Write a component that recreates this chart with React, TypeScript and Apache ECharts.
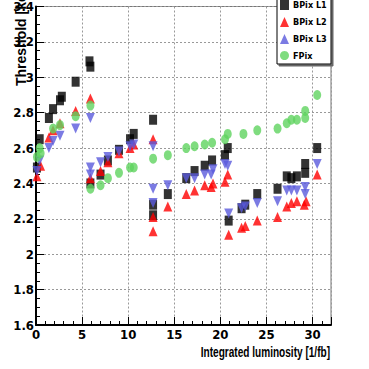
import React, { useEffect, useRef } from "react";
import * as echarts from "echarts";

const seriesNames = ["BPix L1", "BPix L2", "BPix L3", "FPix"];

const bpixL1: [number, number][] = [
  [0.1, 2.49], [0.4, 2.65], [1.4, 2.77], [1.85, 2.82], [2.6, 2.87], [2.8, 2.89],
  [4.3, 2.975], [5.8, 3.09], [5.9, 3.06], [5.9, 2.4], [7.0, 2.45], [7.8, 2.53],
  [9.0, 2.59], [10.2, 2.65], [10.6, 2.68], [12.7, 2.76], [12.7, 2.28], [12.7, 2.22],
  [14.3, 2.34], [16.3, 2.43], [17.2, 2.47], [18.3, 2.5], [19.1, 2.53], [20.5, 2.56],
  [20.8, 2.6], [20.9, 2.19], [22.3, 2.26], [22.7, 2.28], [24.0, 2.34], [26.2, 2.37],
  [27.2, 2.44], [27.7, 2.43], [28.3, 2.44], [29.2, 2.51], [29.2, 2.46], [30.5, 2.6],
];

const bpixL2: [number, number][] = [
  [0.1, 2.44], [0.5, 2.5], [1.4, 2.66], [1.85, 2.7], [2.6, 2.74], [4.3, 2.81],
  [5.9, 2.88], [5.9, 2.43], [7.0, 2.47], [7.8, 2.52], [9.0, 2.57], [10.2, 2.6],
  [10.6, 2.62], [12.7, 2.65], [12.7, 2.21], [12.7, 2.13], [14.3, 2.27], [16.3, 2.34],
  [17.2, 2.36], [18.3, 2.39], [19.0, 2.38], [19.2, 2.4], [20.5, 2.41], [20.8, 2.45],
  [20.9, 2.11], [22.3, 2.15], [22.7, 2.16], [24.0, 2.19], [26.2, 2.21], [27.2, 2.27],
  [27.7, 2.29], [28.3, 2.3], [29.1, 2.28], [29.3, 2.3], [30.5, 2.45],
];

const bpixL3: [number, number][] = [
  [0.1, 2.47], [0.4, 2.53], [1.4, 2.6], [1.85, 2.64], [2.6, 2.67], [4.3, 2.71],
  [5.9, 2.77], [5.9, 2.49], [5.9, 2.45], [7.0, 2.52], [7.8, 2.55], [9.0, 2.58],
  [10.2, 2.61], [10.6, 2.62], [12.7, 2.61], [12.7, 2.37], [12.7, 2.29], [14.3, 2.39],
  [16.3, 2.43], [17.2, 2.43], [18.3, 2.45], [19.0, 2.45], [19.2, 2.48], [20.5, 2.51],
  [20.8, 2.5], [20.9, 2.23], [22.3, 2.26], [22.7, 2.27], [24.0, 2.29], [26.2, 2.3],
  [27.2, 2.36], [27.7, 2.36], [28.3, 2.36], [29.2, 2.38], [29.2, 2.34], [30.5, 2.51],
];

const fpix: [number, number][] = [
  [0.1, 2.55], [0.4, 2.6], [0.5, 2.57], [1.85, 2.71], [2.6, 2.73], [4.3, 2.78],
  [5.9, 2.84], [5.9, 2.37], [7.0, 2.39], [7.8, 2.43], [9.0, 2.46], [10.2, 2.49],
  [10.6, 2.49], [12.7, 2.54], [14.3, 2.56], [16.3, 2.6], [17.2, 2.61], [18.3, 2.62],
  [19.1, 2.63], [20.5, 2.65], [20.8, 2.68], [22.5, 2.68], [24.0, 2.7], [26.2, 2.71],
  [27.2, 2.74], [27.7, 2.76], [28.3, 2.76], [29.2, 2.77], [29.2, 2.81], [30.5, 2.9],
];

const xTitle = "Integrated luminosity [1/fb]";
const yTitle = "Threshold [ke]";

const FONT = "'Liberation Sans Narrow', 'DejaVu Sans Condensed', 'Liberation Sans', sans-serif";

export default function App() {
  const ref = useRef<HTMLDivElement>(null);
  useEffect(() => {
    if (!ref.current) return;
    const chart = echarts.init(ref.current, undefined, { renderer: "svg" });
    const labelStyle = {
      color: "#000",
      fontSize: 13,
      fontWeight: "bold" as const,
      fontFamily: FONT,
    };
    const option: any = {
      animation: false,
      backgroundColor: "#fff",
      grid: {
        left: 36,
        right: 38,
        top: -4,
        bottom: 44,
        show: true,
        borderColor: "#777",
        borderWidth: 1,
        backgroundColor: "transparent",
      },
      xAxis: {
        type: "value",
        min: 0,
        max: 32,
        interval: 5,
        axisLine: { show: true, onZero: false, lineStyle: { color: "#000", width: 2 } },
        axisTick: { show: true, inside: true, length: 8, lineStyle: { color: "#000", width: 1 } },
        minorTick: { show: true, splitNumber: 5, length: 4, lineStyle: { color: "#000", width: 1 } },
        splitLine: { show: true, lineStyle: { color: "#999", width: 1, type: [2, 2] } },
        axisLabel: { ...labelStyle, margin: 3, showMaxLabel: false },
      },
      yAxis: {
        type: "value",
        min: 1.6,
        max: 3.4,
        interval: 0.2,
        axisLine: { show: true, onZero: false, lineStyle: { color: "#000", width: 2 } },
        axisTick: { show: true, inside: true, length: 8, lineStyle: { color: "#000", width: 1 } },
        minorTick: { show: true, splitNumber: 4, length: 4, lineStyle: { color: "#000", width: 1 } },
        splitLine: { show: true, lineStyle: { color: "#999", width: 1, type: [2, 2] } },
        axisLabel: {
          ...labelStyle,
          margin: 2,
          formatter: (v: number) => String(Math.round(v * 10) / 10),
        },
      },
      legend: {
        orient: "vertical",
        left: 278,
        top: -4,
        padding: [4, 2, 2, 2],
        itemWidth: 9,
        itemHeight: 10,
        itemGap: 7,
        z: 10,
        textStyle: { color: "#000", fontSize: 9, fontWeight: "bold", fontFamily: FONT, padding: [0, 0, 0, -1] },
        data: seriesNames,
      },
      graphic: [
        {
          type: "rect",
          z: 8,
          shape: { x: 277, y: -6, width: 54, height: 70 },
          style: {
            fill: "#fff",
            stroke: "#000",
            lineWidth: 1,
            shadowColor: "#666",
            shadowOffsetX: 2,
            shadowOffsetY: 2,
            shadowBlur: 0,
          },
        },
        {
          type: "text",
          z: 10,
          x: 330,
          y: 345,
          scaleX: 0.72,
          style: {
            text: xTitle,
            align: "right",
            verticalAlign: "top",
            fill: "#000",
            font: "bold 14px 'Liberation Sans', Arial, sans-serif",
          },
        },
        {
          type: "text",
          z: 10,
          x: 21,
          y: 86,
          rotation: Math.PI / 2,
          style: {
            text: yTitle,
            align: "left",
            verticalAlign: "middle",
            fill: "#000",
            font: "bold 14px 'Liberation Sans', Arial, sans-serif",
          },
        },
      ],
      series: [
        {
          name: seriesNames[0],
          type: "scatter",
          data: bpixL1,
          symbol: "rect",
          symbolSize: [8, 10],
          itemStyle: { color: "#000" },
        },
        {
          name: seriesNames[1],
          type: "scatter",
          data: bpixL2,
          symbol: "triangle",
          symbolSize: [9, 10],
          itemStyle: { color: "#ff0000" },
        },
        {
          name: seriesNames[2],
          type: "scatter",
          data: bpixL3,
          symbol: "triangle",
          symbolRotate: 180,
          symbolSize: [9, 10],
          itemStyle: { color: "#5a5adc" },
        },
        {
          name: seriesNames[3],
          type: "scatter",
          data: fpix,
          symbol: "circle",
          symbolSize: [8, 10],
          itemStyle: { color: "#5fd35f" },
        },
      ],
    };
    chart.setOption(option);
    return () => chart.dispose();
  }, []);
  return <div ref={ref} style={{ width: 369, height: 369, position: "absolute", left: 0, top: 0 }} />;
}
